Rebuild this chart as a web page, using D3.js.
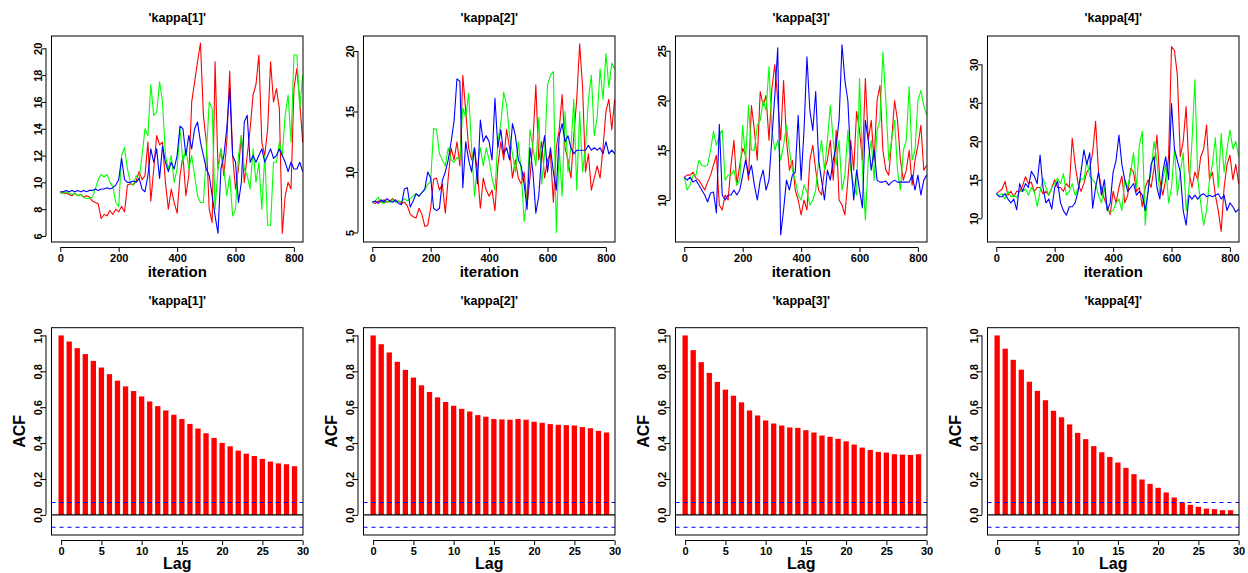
<!DOCTYPE html>
<html><head><meta charset="utf-8">
<script src="https://cdn.jsdelivr.net/npm/d3@7"></script>
<style>
body{margin:0;background:#fff}
svg{display:block}
text{font-family:"Liberation Sans",Arial,Helvetica,sans-serif;font-weight:bold;fill:#000}
</style>
</head><body>
<svg id="c" width="1248" height="573"></svg>
<script>
// ---------------- DATA ----------------
const params = ["'kappa[1]'", "'kappa[2]'", "'kappa[3]'", "'kappa[4]'"];
const chainColors = ["#FF0000", "#00FF00", "#0000FF"];
const iterations = d3.range(0, 831, 10); // x positions of the read-off samples (0..830)

// kappa[1]
const red1 = [9.3,9.2,9.2,9.1,9.0,9.2,9.0,9.1,8.9,9.0, 8.9,8.6,8.5,8.4,7.3,7.6,7.5,7.9,7.6,8.0, 7.8,8.2,7.8,9.8,9.9,9.8,10.1,10.8,10.2,10.5, 13.0,8.6,11.0,13.5,12.8,13.0,10.0,8.0,9.5,8.5, 7.7,10.5,12.0,9.0,10.5,16.0,17.5,19.0,20.4,15.0, 13.0,8.0,7.0,19.0,11.0,12.5,10.5,13.0,18.3,12.0, 9.5,11.0,13.5,10.0,12.0,14.0,16.5,17.3,19.5,13.0, 12.0,14.0,19.0,16.0,17.0,15.5,6.2,9.0,10.0,9.5, 17.0,18.5,16.0,13.0];
const green1 = [9.2,9.2,9.3,9.2,9.1,9.2,9.0,9.1,8.9,8.8, 8.8,8.9,9.5,10.2,10.6,10.4,10.6,10.0,9.7,8.5, 8.2,12.0,12.6,11.0,10.0,9.8,10.5,10.2,12.0,14.0, 13.5,17.3,15.0,15.2,17.5,16.0,12.0,11.0,12.0,10.0, 11.0,14.0,11.5,12.5,11.0,12.0,10.5,9.0,8.5,8.5, 12.0,16.0,15.5,8.0,11.0,12.5,11.0,9.0,10.5,7.5, 8.0,12.0,13.5,11.0,10.5,9.5,12.5,10.0,11.5,8.0, 12.0,6.8,6.8,11.5,11.5,13.0,12.0,15.0,16.5,13.0, 19.5,19.5,15.5,18.0];
const blue1 = [9.3,9.3,9.4,9.3,9.4,9.3,9.4,9.3,9.4,9.3, 9.4,9.4,9.5,9.4,9.5,9.5,9.6,9.5,9.6,9.8, 10.2,11.8,10.2,10.0,10.0,10.1,10.0,10.3,9.5,9.3, 10.5,12.5,11.5,12.5,10.3,12.7,11.5,10.8,11.5,11.0, 12.0,14.2,14.0,12.0,13.5,12.5,14.0,14.5,13.0,12.0, 11.0,10.5,9.0,7.5,6.2,11.0,12.0,14.0,17.0,12.0, 11.5,8.5,10.0,14.5,15.0,11.5,12.0,11.5,12.0,12.5, 11.5,12.0,12.5,11.8,12.0,12.5,12.0,11.5,10.8,11.5, 11.0,11.0,11.5,10.8];

// kappa[2]
const red2 = [7.5,7.4,7.6,7.5,7.7,7.5,7.6,7.8,7.5,7.6, 7.4,7.5,7.2,6.5,6.3,6.2,7.0,6.5,5.5,5.6, 7.0,9.4,9.5,8.5,9.0,6.6,9.5,12.0,11.0,12.5, 10.5,18.0,15.0,12.0,11.0,12.0,10.0,7.0,9.5,8.5, 8.0,8.5,6.8,10.5,12.5,11.0,13.5,12.0,9.5,11.0, 9.5,9.0,10.0,7.3,9.5,12.5,17.2,11.0,12.5,9.5, 11.0,11.5,7.5,12.0,13.5,16.4,12.0,11.0,9.5,13.0, 16.0,20.6,17.0,10.0,11.5,8.5,9.5,10.5,9.5,12.0, 15.0,16.0,13.5,16.0];
const green2 = [7.5,7.6,7.9,7.5,7.4,7.6,7.5,7.7,7.5,7.6, 7.5,7.8,7.6,7.8,8.0,8.2,8.0,8.3,8.5,9.0, 9.2,13.6,13.5,11.5,11.0,10.5,12.0,11.0,10.8,11.2, 11.0,15.3,14.5,16.5,12.0,8.0,10.5,12.0,10.5,12.0, 11.0,9.5,8.5,12.5,14.0,16.6,15.5,13.0,11.5,10.0, 12.5,10.0,5.9,8.0,13.5,12.0,10.5,14.5,9.0,11.5, 17.2,18.0,18.3,5.0,12.0,8.0,15.0,10.0,12.0,16.0, 8.5,15.0,10.0,12.0,16.0,18.0,13.0,14.5,18.5,16.0, 19.8,17.0,19.0,18.5];
const blue2 = [7.5,7.6,7.4,7.7,7.5,7.8,7.6,7.5,7.7,7.4, 7.3,8.6,8.7,7.1,7.6,8.2,8.0,8.3,8.6,10.0, 9.5,7.0,6.8,7.0,9.3,10.0,11.0,12.5,14.2,17.7, 17.5,8.7,12.5,11.0,10.0,12.0,9.0,14.3,12.5,13.0, 12.5,11.0,16.1,12.0,13.5,11.5,12.0,11.0,14.0,13.0, 11.0,10.5,9.0,6.9,12.0,10.0,6.6,8.0,11.5,13.0, 10.0,12.0,10.0,8.5,13.0,14.0,12.5,13.0,12.0,11.5, 11.8,11.8,11.8,11.8,12.2,11.8,12.0,11.8,12.0,11.5, 12.5,11.5,11.8,11.5];

// kappa[3]
const red3 = [12.3,12.5,12.5,12.8,12.2,12.0,11.5,11.0,11.8,12.5, 13.5,14.5,9.5,9.0,10.5,10.0,13.5,16.0,11.5,13.5, 15.2,14.5,12.0,19.5,17.0,14.0,20.9,19.5,20.5,16.0, 21.2,23.6,20.0,16.0,22.0,16.0,13.0,14.0,11.0,10.0, 8.5,10.0,9.0,14.0,15.5,13.0,11.0,10.5,13.0,14.0, 16.0,12.0,17.0,10.0,9.5,8.5,12.0,16.0,13.0,18.9, 17.0,14.0,22.2,16.0,18.0,14.0,20.0,21.5,15.0,13.0, 12.5,16.0,20.0,18.0,14.0,12.0,13.0,15.0,11.5,14.0, 15.5,17.5,13.0,13.5];
const green3 = [12.3,11.0,11.5,12.5,12.5,14.0,13.5,13.4,13.5,15.0, 16.9,15.5,16.5,17.0,12.0,12.5,12.5,13.0,11.5,12.0, 17.5,14.0,19.5,15.0,15.0,17.5,18.0,20.0,19.0,23.4, 17.0,15.0,16.0,14.0,15.5,17.5,15.0,13.0,12.0,10.5, 10.0,11.5,10.8,9.5,10.0,11.0,14.0,16.0,13.0,16.0, 19.5,16.0,13.5,16.0,11.0,12.5,17.0,13.0,11.5,10.5, 22.2,13.0,8.0,14.0,16.0,12.0,17.0,18.0,24.9,20.0, 14.0,16.0,18.0,13.0,11.0,15.0,16.0,21.4,14.0,15.0, 20.0,21.0,19.5,18.5];
const blue3 = [12.3,12.0,12.3,11.8,12.0,11.5,11.0,10.5,9.8,10.7, 10.8,8.7,17.6,10.5,10.0,10.5,10.5,11.0,10.5,11.0, 12.5,14.0,12.5,13.5,11.5,10.0,12.0,13.0,11.0,12.0, 16.2,20.5,25.3,6.5,9.0,12.0,11.0,12.5,12.8,18.5, 12.0,17.0,24.4,19.0,17.0,20.9,14.0,12.0,10.0,13.0, 12.0,14.0,15.5,18.0,25.6,22.0,20.0,14.0,10.0,13.0, 11.0,9.2,18.0,16.0,13.0,15.0,12.0,11.8,11.8,11.9, 11.5,11.8,12.0,11.8,11.8,11.8,11.8,11.8,12.5,11.0, 12.5,10.5,12.0,12.5];

// kappa[4]
const red4 = [13.2,13.5,13.8,14.8,13.0,13.5,12.8,13.5,13.5,14.2, 15.4,14.5,14.7,13.5,14.0,14.0,13.2,13.5,13.0,14.0, 15.0,14.0,14.0,13.5,14.5,14.0,20.4,17.0,14.5,13.5, 14.5,16.0,16.5,18.5,22.6,16.0,14.0,12.5,11.5,10.5, 13.5,12.0,14.0,15.5,12.0,13.0,16.5,16.0,13.5,14.0, 11.5,14.0,15.0,14.0,16.5,20.8,15.0,13.0,15.0,18.0, 32.3,31.8,28.6,18.0,20.0,24.5,16.0,14.0,16.0,15.0, 18.0,19.0,22.1,15.0,16.0,13.0,11.0,8.3,14.0,17.0, 18.2,15.0,17.0,14.5];
const green4 = [13.2,13.0,13.2,12.5,13.5,12.8,13.0,12.7,13.5,13.5, 13.8,13.0,14.0,13.5,11.5,13.5,15.2,14.0,13.0,14.0, 14.5,15.2,14.5,15.8,13.0,13.5,14.5,13.0,13.8,15.2, 15.0,17.5,15.5,15.0,14.5,13.0,12.0,14.0,11.2,10.8, 11.0,12.0,12.5,11.0,15.0,14.0,16.0,18.5,14.0,19.5, 21.3,9.1,14.0,16.0,20.0,17.5,13.0,15.0,17.0,12.0, 14.0,19.0,13.0,16.0,18.5,11.0,14.0,20.0,28.0,15.0, 12.0,9.1,11.0,15.0,17.0,20.5,14.0,21.0,16.0,19.0, 21.5,19.0,20.0,18.0];
const blue4 = [13.2,12.8,12.8,13.2,12.5,12.0,12.5,11.1,14.5,13.5, 14.5,14.0,16.1,15.5,14.5,18.2,14.0,12.0,12.5,11.2, 14.0,14.8,12.0,11.0,10.4,11.5,11.5,12.0,13.5,16.0, 18.9,17.0,18.5,11.3,14.0,16.0,13.0,15.0,11.0,12.0, 16.0,17.5,20.8,17.0,15.0,13.5,14.0,14.5,13.0,13.5, 13.0,11.0,13.5,17.0,18.0,14.0,12.5,16.0,18.0,15.0, 24.9,19.0,17.5,16.0,11.0,9.1,13.0,12.5,13.0,12.5, 13.0,13.2,12.8,13.0,12.8,13.0,13.2,12.5,13.0,11.0, 12.0,11.5,10.8,11.2];

const traceXTicks = [0, 200, 400, 600, 800];
const traceXDomain = [-30, 831];
const traceYTicks = [[6,8,10,12,14,16,18,20],[5,10,15,20],[10,15,20,25],[10,15,20,25,30]];
const traceYDomains = [[5.55,20.92],[4.21,21.24],[5.78,26.48],[6.92,33.68]];

// autocorrelations, lags 0..29
const lags = d3.range(0, 30);
const acf1 = [1.0,0.966,0.929,0.896,0.858,0.821,0.784,0.748,0.716,0.690,0.660,0.632,0.606,0.582,0.558,0.534,0.507,0.481,0.455,0.429,0.401,0.382,0.358,0.341,0.328,0.312,0.297,0.287,0.282,0.271];
const acf2 = [1.0,0.951,0.905,0.853,0.808,0.765,0.722,0.685,0.655,0.629,0.608,0.591,0.576,0.556,0.547,0.534,0.532,0.530,0.534,0.530,0.519,0.513,0.506,0.502,0.500,0.498,0.489,0.483,0.468,0.459];
const acf3 = [1.0,0.918,0.851,0.791,0.741,0.698,0.664,0.627,0.582,0.554,0.526,0.509,0.498,0.487,0.485,0.472,0.459,0.442,0.435,0.424,0.410,0.392,0.375,0.362,0.351,0.347,0.338,0.336,0.334,0.338];
const acf4 = [1.0,0.926,0.864,0.809,0.742,0.691,0.639,0.580,0.544,0.504,0.457,0.422,0.383,0.349,0.323,0.292,0.262,0.227,0.197,0.173,0.151,0.125,0.097,0.069,0.056,0.045,0.035,0.032,0.026,0.026];
const acfClim = 0.069;
const acfXTicks = [0,5,10,15,20,25,30];
const acfYTicks = [0.0,0.2,0.4,0.6,0.8,1.0];
const acfXDomain = [-1.2, 30.05];
const acfYDomain = [-0.112, 1.043];

// ---------------- LAYOUT ----------------
const svg = d3.select("#c");
const PW = 312, L = 51.5, R = 303;
const TT = 36, TB = 242;      // trace plot box
const AT = 327.7, AB = 535;   // acf plot box
const traceSeries = [[red1,green1,blue1],[red2,green2,blue2],[red3,green3,blue3],[red4,green4,blue4]];
const acfSeries = [acf1,acf2,acf3,acf4];

function drawAxes(g, x, y, xTicks, yTicks, xFmt, yFmt, boxL, boxB) {
  const off = 5.5, tl = 4.5;
  const ax = g.append("g").attr("transform", `translate(0,${boxB + off})`)
    .call(d3.axisBottom(x).tickValues(xTicks).tickFormat(xFmt).tickSize(tl).tickSizeOuter(0));
  ax.select(".domain").remove();
  ax.append("line").attr("x1", x(xTicks[0])).attr("x2", x(xTicks[xTicks.length-1]))
    .attr("stroke", "#000");
  ax.selectAll(".tick line").attr("stroke", "#000");
  ax.selectAll(".tick text").attr("y", 14.5).attr("dy", 0).attr("font-size", "11px")
    .attr("fill", "#000").attr("font-family", null);
  const ay = g.append("g").attr("transform", `translate(${boxL - off},0)`)
    .call(d3.axisLeft(y).tickValues(yTicks).tickFormat(yFmt).tickSize(tl).tickSizeOuter(0));
  ay.select(".domain").remove();
  ay.append("line").attr("y1", y(yTicks[0])).attr("y2", y(yTicks[yTicks.length-1]))
    .attr("stroke", "#000");
  ay.selectAll(".tick line").attr("stroke", "#000");
  ay.selectAll(".tick text").attr("x", 0).attr("y", 0).attr("dy", 0)
    .attr("transform", "translate(-4.5,0) rotate(-90)")
    .attr("text-anchor", "middle").attr("font-size", "11px")
    .attr("fill", "#000").attr("font-family", null);
}

params.forEach((p, i) => {
  const ox = i * PW;
  // ---------- trace plot ----------
  const g = svg.append("g");
  const x = d3.scaleLinear().domain(traceXDomain).range([ox + L, ox + R]);
  const y = d3.scaleLinear().domain(traceYDomains[i]).range([TB, TT]);
  const clipId = "clipT" + i;
  svg.append("clipPath").attr("id", clipId).append("rect")
    .attr("x", ox + L).attr("y", TT).attr("width", R - L).attr("height", TB - TT);
  const line = d3.line().x((d, j) => x(iterations[j])).y(d => y(d));
  const lg = g.append("g").attr("clip-path", `url(#${clipId})`);
  traceSeries[i].forEach((s, k) => {
    lg.append("path").attr("d", line(s)).attr("fill", "none")
      .attr("stroke", chainColors[k]).attr("stroke-width", 1.1).attr("stroke-linejoin", "round");
  });
  g.append("rect").attr("x", ox + L).attr("y", TT).attr("width", R - L).attr("height", TB - TT)
    .attr("fill", "none").attr("stroke", "#000").attr("stroke-width", 1);
  drawAxes(g, x, y, traceXTicks, traceYTicks[i], d3.format("d"), d3.format("d"), ox + L, TB);
  g.append("text").attr("x", ox + (L + R) / 2).attr("y", 21.5).attr("text-anchor", "middle")
    .attr("font-size", "12.5px").text(p);
  g.append("text").attr("x", ox + (L + R) / 2).attr("y", 277).attr("text-anchor", "middle")
    .attr("font-size", "15px").text("iteration");

  // ---------- ACF plot ----------
  const h = svg.append("g");
  const xa = d3.scaleLinear().domain(acfXDomain).range([ox + L, ox + R]);
  const ya = d3.scaleLinear().domain(acfYDomain).range([AB, AT]);
  h.selectAll("rect.bar").data(acfSeries[i]).enter().append("rect").attr("class", "bar")
    .attr("x", (d, j) => xa(lags[j]) - 2.65).attr("width", 5.3)
    .attr("y", d => ya(Math.max(d, 0))).attr("height", d => Math.abs(ya(d) - ya(0)))
    .attr("fill", "#FF0000");
  h.append("line").attr("x1", ox + L).attr("x2", ox + R).attr("y1", ya(0)).attr("y2", ya(0))
    .attr("stroke", "#000").attr("stroke-width", 1.2);
  [acfClim, -acfClim].forEach(c => {
    h.append("line").attr("x1", ox + L).attr("x2", ox + R).attr("y1", ya(c)).attr("y2", ya(c))
      .attr("stroke", "#0000FF").attr("stroke-width", 1).attr("stroke-dasharray", "4,4");
  });
  h.append("rect").attr("x", ox + L).attr("y", AT).attr("width", R - L).attr("height", AB - AT)
    .attr("fill", "none").attr("stroke", "#000").attr("stroke-width", 1);
  drawAxes(h, xa, ya, acfXTicks, acfYTicks, d3.format("d"), d3.format(".1f"), ox + L, AB);
  h.append("text").attr("x", ox + (L + R) / 2).attr("y", 304.5).attr("text-anchor", "middle")
    .attr("font-size", "12.5px").text(p);
  h.append("text").attr("x", ox + (L + R) / 2).attr("y", 569).attr("text-anchor", "middle")
    .attr("font-size", "16px").text("Lag");
  h.append("text").attr("transform", `translate(${ox + 25},${(AT + AB) / 2}) rotate(-90)`)
    .attr("text-anchor", "middle").attr("font-size", "16px").text("ACF");
});
</script>
</body></html>
